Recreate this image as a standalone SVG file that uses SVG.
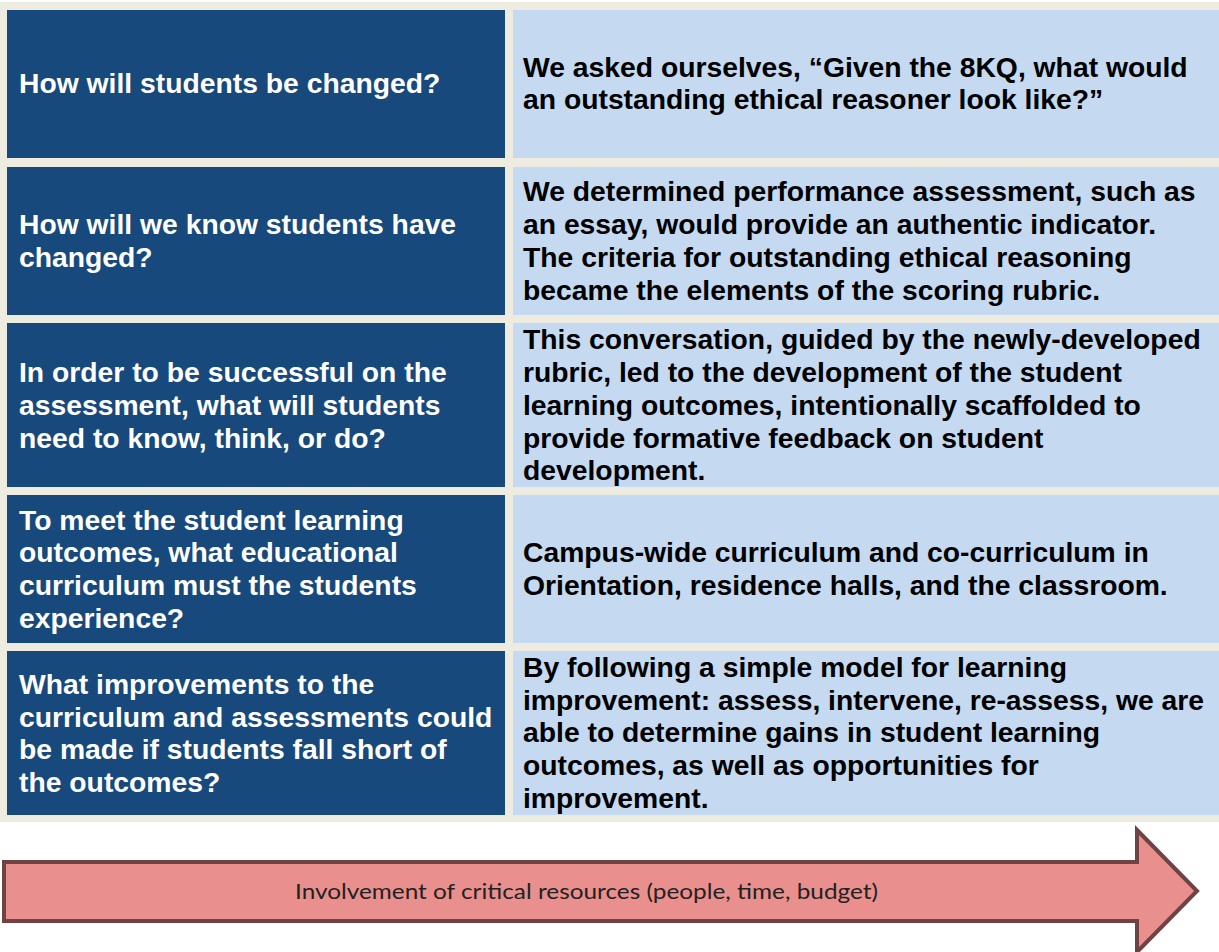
<svg xmlns="http://www.w3.org/2000/svg" width="1219" height="952" viewBox="0 0 1219 952">
<style>
.q{fill:#17497C}
.a{fill:#C5D9F0}
.qt{font-family:"Liberation Sans",Arial,sans-serif;font-weight:bold;font-size:28.3px;fill:#FFFFFF}
.at{font-family:"Liberation Sans",Arial,sans-serif;font-weight:bold;font-size:28.3px;fill:#000000}
.arr{fill:#E9908E;stroke:#6E4343;stroke-width:4;stroke-linejoin:miter}
.arrt{font-family:Lato,"Noto Sans",sans-serif;font-size:21px;fill:#222222}
</style>
<rect x="0" y="0" width="1219" height="952" fill="#FFFFFF"/>
<rect id="background" x="0" y="2" width="1219" height="820" fill="#EEECE1"/>

<g id="row1-question">
<rect class="q" x="7" y="10" width="498" height="148"/>
<text class="qt" x="19" y="93">How will students be changed?</text>
</g>
<g id="row1-answer">
<rect class="a" x="513" y="10" width="706" height="148"/>
<text class="at" x="523" y="77">We asked ourselves, “Given the 8KQ, what would</text>
<text class="at" x="523" y="109">an outstanding ethical reasoner look like?”</text>
</g>

<g id="row2-question">
<rect class="q" x="7" y="167" width="498" height="148"/>
<text class="qt" x="19" y="234">How will we know students have</text>
<text class="qt" x="19" y="267">changed?</text>
</g>
<g id="row2-answer">
<rect class="a" x="513" y="167" width="706" height="148"/>
<text class="at" x="523" y="201">We determined performance assessment, such as</text>
<text class="at" x="523" y="234">an essay, would provide an authentic indicator.</text>
<text class="at" x="523" y="267">The criteria for outstanding ethical reasoning</text>
<text class="at" x="523" y="300">became the elements of the scoring rubric.</text>
</g>

<g id="row3-question">
<rect class="q" x="7" y="323" width="498" height="164"/>
<text class="qt" x="19" y="382">In order to be successful on the</text>
<text class="qt" x="19" y="415">assessment, what will students</text>
<text class="qt" x="19" y="448">need to know, think, or do?</text>
</g>
<g id="row3-answer">
<rect class="a" x="513" y="323" width="706" height="164"/>
<text class="at" x="523" y="349">This conversation, guided by the newly-developed</text>
<text class="at" x="523" y="382">rubric, led to the development of the student</text>
<text class="at" x="523" y="415">learning outcomes, intentionally scaffolded to</text>
<text class="at" x="523" y="448">provide formative feedback on student</text>
<text class="at" x="523" y="480">development.</text>
</g>

<g id="row4-question">
<rect class="q" x="7" y="495" width="498" height="148"/>
<text class="qt" x="19" y="530">To meet the student learning</text>
<text class="qt" x="19" y="562">outcomes, what educational</text>
<text class="qt" x="19" y="595">curriculum must the students</text>
<text class="qt" x="19" y="628">experience?</text>
</g>
<g id="row4-answer">
<rect class="a" x="513" y="495" width="706" height="148"/>
<text class="at" x="523" y="562">Campus-wide curriculum and co-curriculum in</text>
<text class="at" x="523" y="595">Orientation, residence halls, and the classroom.</text>
</g>

<g id="row5-question">
<rect class="q" x="7" y="651" width="498" height="164"/>
<text class="qt" x="19" y="694">What improvements to the</text>
<text class="qt" x="19" y="727">curriculum and assessments could</text>
<text class="qt" x="19" y="759">be made if students fall short of</text>
<text class="qt" x="19" y="792">the outcomes?</text>
</g>
<g id="row5-answer">
<rect class="a" x="513" y="651" width="706" height="164"/>
<text class="at" x="523" y="677">By following a simple model for learning</text>
<text class="at" x="523" y="710">improvement: assess, intervene, re-assess, we are</text>
<text class="at" x="523" y="742">able to determine gains in student learning</text>
<text class="at" x="523" y="775">outcomes, as well as opportunities for</text>
<text class="at" x="523" y="808">improvement.</text>
</g>

<g id="resources-arrow">
<polygon class="arr" points="4,862 1137,862 1137,830 1197,891 1137,952 1137,921 4,921"/>
<text class="arrt" x="295" y="899" textLength="583" lengthAdjust="spacingAndGlyphs">Involvement of critical resources (people, time, budget)</text>
</g>
</svg>
